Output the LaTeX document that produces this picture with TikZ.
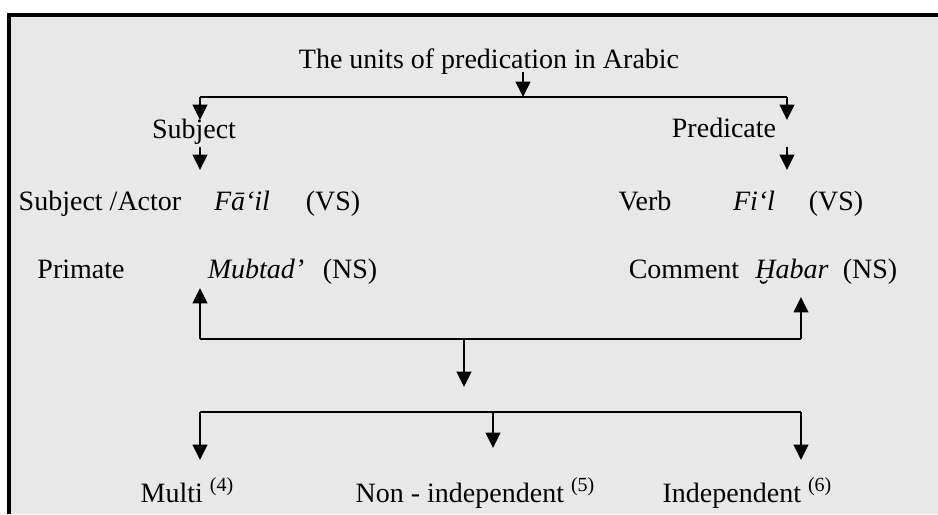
\documentclass[tikz,border=0pt]{standalone}
\usepackage{fontspec}
\setmainfont{Liberation Serif}
\usetikzlibrary{arrows.meta}
\definecolor{bgfill}{RGB}{232,232,232}
\newcommand{\supn}[1]{\raisebox{0.8ex}{\fontsize{15}{16}\selectfont(#1)}}
\begin{document}
\begin{tikzpicture}[x=0.75pt,y=-0.75pt,
  txt/.style={anchor=base,inner sep=0pt,font=\fontsize{21}{25}\selectfont},
  ln/.style={line width=1.5pt,black},
  arr/.style={ln,-{Triangle[length=11.5pt,width=11pt]}}]
\useasboundingbox (0,0) rectangle (938,514);
\fill[white] (0,0) rectangle (938,514);
\fill[bgfill] (9,15) rectangle (938,514);
\draw[line width=3pt] (9,514) -- (9,15) -- (938,15);

% texts
\node[txt] (title) at (489,68) {The units of predication in Arabic};
\node[txt] (subj) at (194,138) {Subject};
\node[txt] (pred) at (724,137) {Predicate};
\node[txt] (actor) at (100,210) {Subject /Actor};
\node[txt] (fail) at (242,210) {\itshape Fā‘il};
\node[txt] (vs1) at (333,210) {(VS)};
\node[txt] (verb) at (645,210) {Verb};
\node[txt] (fil) at (754,210) {\itshape Fi‘l};
\node[txt] (vs2) at (836,210) {(VS)};
\node[txt] (prim) at (81,278) {Primate};
\node[txt] (mubt) at (256,278) {\itshape Mubtad’};
\node[txt] (ns1) at (350,278) {(NS)};
\node[txt] (comm) at (684,278) {Comment};
\node[txt] (habar) at (792,278) {\itshape Ḫabar};
\node[txt] (ns2) at (870,278) {(NS)};
\node[txt] (multi) at (187,502) {Multi \supn{4}};
\node[txt] (nonind) at (475,502) {Non - independent \supn{5}};
\node[txt] (indep) at (747,502) {Independent \supn{6}};

% junction coordinates
\coordinate (t0) at (523,72);
\coordinate (t1) at (523,97);
\coordinate (tl) at (200,97);
\coordinate (tr) at (787,97);
\coordinate (tlE) at (200,120);
\coordinate (trE) at (787,120);
\coordinate (s0) at (200,147);
\coordinate (s1) at (200,170);
\coordinate (p0) at (787,147);
\coordinate (p1) at (787,170);
\coordinate (ml) at (200,339);
\coordinate (mr) at (801,339);
\coordinate (mlE) at (200,288);
\coordinate (mrE) at (801,297);
\coordinate (mc) at (464,339);
\coordinate (mcE) at (464,387);
\coordinate (bl) at (200,412);
\coordinate (bm) at (493,412);
\coordinate (br) at (801,412);
\coordinate (blE) at (200,460);
\coordinate (bmE) at (493,448);
\coordinate (brE) at (801,460);

% connectors
\draw[arr] (t0) -- (t1);
\draw[ln] (tl) -- (tr);
\draw[arr] (tl) -- (tlE);
\draw[arr] (tr) -- (trE);
\draw[arr] (s0) -- (s1);
\draw[arr] (p0) -- (p1);
\draw[ln] (ml) -- (mr);
\draw[arr] (ml) -- (mlE);
\draw[arr] (mr) -- (mrE);
\draw[arr] (mc) -- (mcE);
\draw[ln] (bl) -- (br);
\draw[arr] (bl) -- (blE);
\draw[arr] (bm) -- (bmE);
\draw[arr] (br) -- (brE);
\end{tikzpicture}
\end{document}
